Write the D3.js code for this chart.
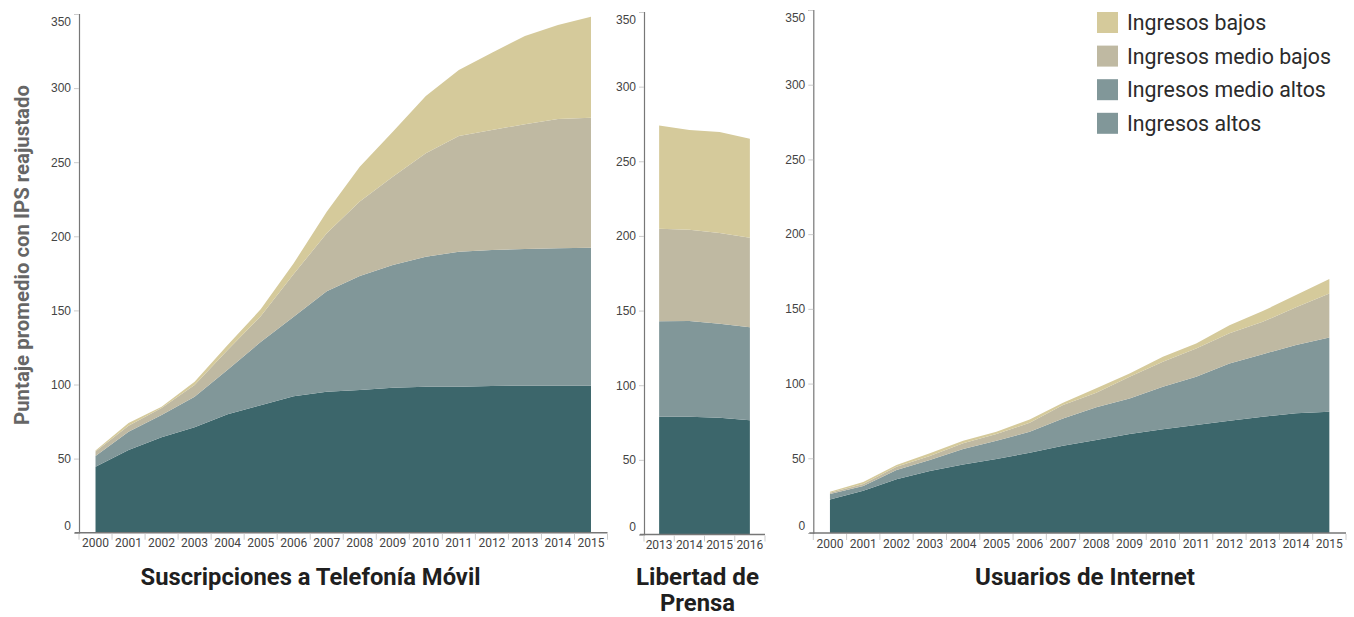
<!DOCTYPE html>
<html>
<head>
<meta charset="utf-8">
<script src="https://cdn.jsdelivr.net/npm/d3@7"></script>
<style>
  html, body { margin: 0; padding: 0; background: #fff; }
  svg { display: block; font-family: Roboto, "Open Sans", sans-serif; }
</style>
</head>
<body>
<svg id="chart" width="1354" height="617"></svg>
<script>
// ---------------- DATA ----------------
const groups = ["Ingresos altos", "Ingresos medio altos", "Ingresos medio bajos", "Ingresos bajos"]; // stack order, bottom -> top
const legendLabels = ["Ingresos bajos", "Ingresos medio bajos", "Ingresos medio altos", "Ingresos altos"];
const yTicks = [0, 50, 100, 150, 200, 250, 300, 350];

// Suscripciones a Telefonía Móvil
const movilYears = ["2000","2001","2002","2003","2004","2005","2006","2007","2008","2009","2010","2011","2012","2013","2014","2015"];
const movilAltos      = [44.5, 55.8, 64.4, 71.1, 79.9, 86.0, 92.0, 95.1, 96.3, 97.8, 98.5, 98.5, 99.0, 99.2, 99.2, 99.2];
const movilMedioAltos = [7.3, 12.4, 15.0, 20.7, 30.1, 42.7, 53.7, 67.9, 76.9, 82.8, 87.7, 91.1, 91.8, 92.2, 92.7, 93.1];
const movilMedioBajos = [3.0, 4.0, 4.7, 7.9, 13.3, 17.4, 28.9, 39.0, 50.2, 59.6, 69.8, 78.1, 80.9, 84.2, 87.2, 87.7];
const movilBajos      = [0.7, 1.8, 0.9, 2.2, 3.3, 4.6, 7.2, 14.6, 23.6, 30.4, 38.7, 44.5, 52.2, 59.5, 63.5, 68.2];

// Libertad de Prensa
const prensaYears = ["2013","2014","2015","2016"];
const prensaAltos      = [78.9, 78.9, 78.2, 76.6];
const prensaMedioAltos = [63.9, 64.1, 62.9, 62.2];
const prensaMedioBajos = [62.0, 61.1, 60.8, 60.0];
const prensaBajos      = [69.1, 66.9, 67.7, 66.3];

// Usuarios de Internet
const internetYears = ["2000","2001","2002","2003","2004","2005","2006","2007","2008","2009","2010","2011","2012","2013","2014","2015"];
const internetAltos      = [22.5, 28.3, 35.9, 41.5, 45.9, 49.5, 53.7, 58.4, 62.2, 66.2, 69.4, 72.2, 75.1, 77.8, 80.1, 81.1];
const internetMedioAltos = [3.6, 3.1, 6.2, 7.3, 10.3, 12.2, 14.1, 18.3, 21.9, 23.8, 28.5, 32.3, 38.4, 41.9, 45.7, 49.8];
const internetMedioBajos = [0.9, 1.4, 2.2, 2.7, 3.8, 4.5, 6.0, 8.9, 9.7, 14.5, 16.7, 19.0, 20.1, 21.6, 25.2, 29.4];
const internetBajos      = [0.6, 1.3, 1.2, 1.8, 1.7, 1.6, 2.2, 1.6, 3.0, 2.3, 3.3, 3.4, 5.5, 7.2, 8.2, 9.6];

// ---------------- STYLE ----------------
const colors = {
  "Ingresos altos": "#3c666b",
  "Ingresos medio altos": "#819799",
  "Ingresos medio bajos": "#bfb9a2",
  "Ingresos bajos": "#d5ca9b"
};
const legendColors = ["#d5ca9b", "#bfb9a2", "#819799", "#819799"];

const svg = d3.select("#chart");

function buildRows(years, a, ma, mb, b) {
  return years.map((yr, i) => ({
    year: yr,
    "Ingresos altos": a[i],
    "Ingresos medio altos": ma[i],
    "Ingresos medio bajos": mb[i],
    "Ingresos bajos": b[i]
  }));
}

const panels = [
  { rows: buildRows(movilYears, movilAltos, movilMedioAltos, movilMedioBajos, movilBajos),
    years: movilYears, x0: 79, x1: 607.5, yTop: 14, yBot: 532.7,
    title: ["Suscripciones a Telefonía Móvil"], titleX: 310.5, titleW: 340 },
  { rows: buildRows(prensaYears, prensaAltos, prensaMedioAltos, prensaMedioBajos, prensaBajos),
    years: prensaYears, x0: 644, x1: 765, yTop: 12, yBot: 534.5,
    title: ["Libertad de", "Prensa"], titleX: 697.5, titleW: [123, 75] },
  { rows: buildRows(internetYears, internetAltos, internetMedioAltos, internetMedioBajos, internetBajos),
    years: internetYears, x0: 813.3, x1: 1346, yTop: 10, yBot: 533,
    title: ["Usuarios de Internet"], titleX: 1085, titleW: 220 }
];

const stack = d3.stack().keys(groups);

panels.forEach(p => {
  const g = svg.append("g");
  const x = d3.scaleBand().domain(p.years).range([p.x0, p.x1]).padding(0);
  const y = d3.scaleLinear().domain([0, 350]).range([p.yBot, p.yTop]);
  const cx = d => x(d) + x.bandwidth() / 2;

  const series = stack(p.rows);
  const area = d3.area()
    .x(d => cx(d.data.year))
    .y0(d => y(d[0]))
    .y1(d => y(d[1]));

  g.selectAll("path.layer").data(series).join("path")
    .attr("class", "layer")
    .attr("fill", d => colors[d.key])
    .attr("d", area);

  // Y axis
  const yAxis = d3.axisLeft(y).tickValues(yTicks).tickSize(5).tickPadding(3);
  const ya = g.append("g").attr("transform", `translate(${p.x0},0)`).call(yAxis);
  ya.select(".domain").attr("stroke", "#777").attr("stroke-width", 1.2);
  ya.selectAll(".tick line").attr("stroke", "#ccc");
  ya.selectAll(".tick text")
    .attr("fill", "#444").style("font-size", "12px")
    .attr("dy", d => d === 350 ? "0.95em" : (d === 0 ? "-0.3em" : "0.32em"));

  // X axis
  const xa = g.append("g").attr("transform", `translate(0,${p.yBot})`);
  xa.append("line").attr("x1", p.x0 - 4).attr("x2", p.x1).attr("y1", 0).attr("y2", 0)
    .attr("stroke", "#777").attr("stroke-width", 1.4);
  const edges = p.years.map(d => x(d)).concat([x.range()[1]]);
  xa.selectAll("line.sep").data(edges).join("line")
    .attr("class", "sep")
    .attr("x1", d => d).attr("x2", d => d).attr("y1", 1).attr("y2", 7)
    .attr("stroke", "#ccc");
  xa.selectAll("text.xl").data(p.years).join("text")
    .attr("class", "xl")
    .attr("x", d => cx(d)).attr("y", 14.5)
    .attr("text-anchor", "middle")
    .attr("fill", "#444").style("font-size", "12px")
    .text(d => d);

  // Title
  p.title.forEach((t, i) => {
    const tw = Array.isArray(p.titleW) ? p.titleW[i] : p.titleW;
    svg.append("text")
      .attr("x", p.titleX).attr("y", 585 + i * 26)
      .attr("text-anchor", "middle")
      .attr("fill", "#1f1f1f")
      .style("font-size", "23px").style("font-weight", "700")
      .attr("textLength", tw).attr("lengthAdjust", "spacingAndGlyphs")
      .text(t);
  });
});

// Y axis title
svg.append("text")
  .attr("transform", "translate(29,255) rotate(-90)")
  .attr("text-anchor", "middle")
  .attr("fill", "#666")
  .style("font-size", "20px").style("font-weight", "700")
  .attr("textLength", 340).attr("lengthAdjust", "spacingAndGlyphs")
  .text("Puntaje promedio con IPS reajustado");

// Legend
const legend = svg.append("g").attr("transform", "translate(1097,12)");
const li = legend.selectAll("g").data(legendLabels).join("g")
  .attr("transform", (d, i) => `translate(0,${i * 33.6})`);
li.append("rect").attr("width", 21).attr("height", 21).attr("fill", (d, i) => legendColors[i]);
li.append("text").attr("x", 30).attr("y", 18)
  .attr("fill", "#2b2b2b").style("font-size", "22px")
  .text(d => d)
  .each(function() {
    const w = this.getComputedTextLength();
    d3.select(this).attr("textLength", w * 0.97).attr("lengthAdjust", "spacingAndGlyphs");
  });
</script>
</body>
</html>
